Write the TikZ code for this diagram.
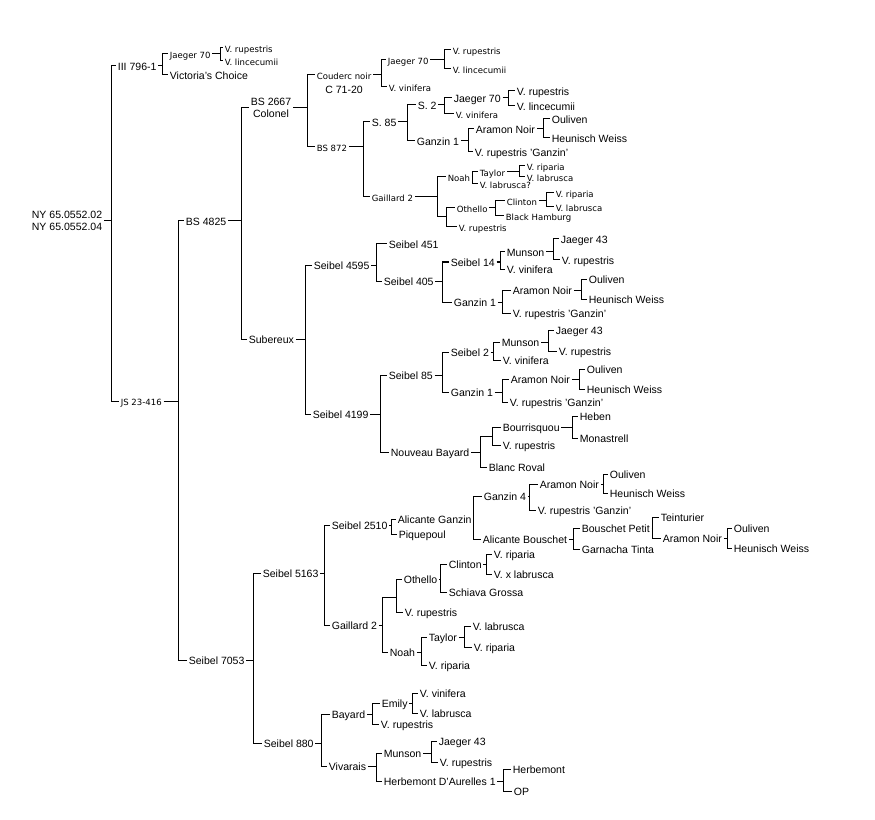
\documentclass[tikz,border=0pt]{standalone}
\usepackage{fontspec}
\setmainfont{Liberation Sans}
\newfontfamily\geneva{DejaVu Sans}

\begin{document}
\begin{tikzpicture}[x=0.75pt, y=-0.75pt, line width=0.75pt,
    txt/.style={inner sep=1pt, font=\fontsize{7.9}{9.5}\selectfont},
    cv/.style={txt, anchor=west, text height=1.6ex, text depth=.4ex},
    sm/.style={cv, font=\geneva\fontsize{6.4}{7.5}\selectfont},
    joint/.style={inner sep=0pt, minimum size=0pt}]
  \useasboundingbox (0,0) rectangle (875,820);
  % 根和两行的名字
  \node[txt, align=center, anchor=east] (root) at (104,221) {NY 65.0552.02\\NY 65.0552.04};
  \node[txt, align=center] (bs2667) at (271,108) {BS 2667\\Colonel};
  \node[sm, label={[txt, label distance=0pt]below:C 71-20}] (coud) at (315,75) {Couderc noir};
  % 没有名字的汇合点
  \foreach \n/\x/\y in {ga/446/217, jb/492/436, jc/396/597}
    \node[joint] (\n) at (\x,\y) {};
  % 普通字号
  \foreach \n/\x/\y/\t in {
      iii/116/66/III 796-1, vict/168/75/Victoria's Choice, bs4825/184/221/BS 4825,
      s85a/370/122/S. 85, s2a/416/105/S. 2, jg70c/452/98/Jaeger 70,
      rupc/515/91/V. rupestris, linc/515/106/V. lincecumii, gz1a/415/141/Ganzin 1,
      arna/474/129/Aramon Noir, oula/550/119/Ouliven, hwa/550/138/Heunisch Weiss,
      vrga/473/152/V. rupestris 'Ganzin',
      sub/247/339/Subereux, s4595/312/265/Seibel 4595, s451/387/244/Seibel 451,
      s405/382/281/Seibel 405, s14/449/262/Seibel 14, muna/505/252/Munson,
      jg43a/559/239/Jaeger 43, rupe/560/260/V. rupestris, vind/505/269/V. vinifera,
      gz1b/452/302/Ganzin 1, arnb/511/290/Aramon Noir, oulb/587/279/Ouliven,
      hwb/587/299/Heunisch Weiss, vrgb/511/313/V. rupestris 'Ganzin',
      s4199/311/414/Seibel 4199, s85b/387/375/Seibel 85, s2b/449/352/Seibel 2,
      munb/500/342/Munson, jg43b/554/330/Jaeger 43, rupf/557/351/V. rupestris,
      vine/501/360/V. vinifera, gz1c/449/392/Ganzin 1, arnc/509/379/Aramon Noir,
      oulc/585/369/Ouliven, hwc/585/389/Heunisch Weiss, vrgc/508/402/V. rupestris 'Ganzin',
      nbay/389/452/Nouveau Bayard, bour/501/427/Bourrisquou, heb/578/416/Heben,
      mon/578/438/Monastrell, rupg/501/445/V. rupestris, blanc/487/467/Blanc Roval,
      s7053/187/660/Seibel 7053, s5163/261/573/Seibel 5163, s2510/330/525/Seibel 2510,
      alg/396/519/Alicante Ganzin, piq/397/534/Piquepoul, gz4/482/496/Ganzin 4,
      arnd/538/484/Aramon Noir, ould/608/474/Ouliven, hwd/608/493/Heunisch Weiss,
      vrgd/536/510/V. rupestris 'Ganzin', alb/481/539/Alicante Bouschet,
      bpet/580/528/Bouschet Petit, tein/659/517/Teinturier, arne/661/538/Aramon Noir,
      oule/732/528/Ouliven, hwe/732/548/Heunisch Weiss, garn/580/549/Garnacha Tinta,
      gail2/330/625/Gaillard 2, oth2/402/579/Othello, clin2/447/564/Clinton,
      ripc/492/554/V. riparia, labx/492/574/V. x labrusca, schia/447/592/Schiava Grossa,
      ruph/403/612/V. rupestris, noah2/388/652/Noah, tay2/427/637/Taylor,
      labc/471/626/V. labrusca, ripd/472/647/V. riparia, ripe/427/665/V. riparia,
      s880/262/743/Seibel 880, bay/330/714/Bayard, emi/380/703/Emily,
      vinf/418/693/V. vinifera, labd/418/713/V. labrusca, rupi/379/724/V. rupestris,
      viv/327/766/Vivarais, munc/382/753/Munson, jg43c/437/741/Jaeger 43,
      rupj/438/762/V. rupestris, hda/382/781/Herbemont D'Aurelles 1,
      herb/511/769/Herbemont, op/512/791/OP}
    \node[cv] (\n) at (\x,\y) {\t};
  % 小字号
  \foreach \n/\x/\y/\t in {
      jg70a/168/54/Jaeger 70, rupa/223/48/V. rupestris, lina/223/61/V. lincecumii,
      js/119/401/JS 23-416, jg70b/386/60/Jaeger 70, rupb/451/50/V. rupestris,
      linb/451/69/V. lincecumii, vinb/387/87/V. vinifera, bs872/315/147/BS 872,
      vinc/454/114/V. vinifera, gail/370/197/Gaillard 2, noah/446/177/Noah,
      tay/478/172/Taylor, ripa/525/166/V. riparia, laba/525/177/V. labrusca,
      labq/478/184/V. labrusca?, oth/455/208/Othello, clin/505/201/Clinton,
      ripb/554/193/V. riparia, labb/554/207/V. labrusca, bham/504/216/Black Hamburg,
      rupd/457/227/V. rupestris}
    \node[sm] (\n) at (\x,\y) {\t};
  % 亲本连线: 名字/竖线的x/子代
  \foreach \p/\b/\cs in {
      root/111/{iii,js}, iii/162/{jg70a,vict}, jg70a/220/{rupa,lina},
      js/178/{bs4825,s7053}, bs4825/241/{bs2667,sub}, bs2667/307/{coud,bs872},
      coud/381/{jg70b,vinb}, jg70b/444/{rupb,linb}, bs872/363/{s85a,gail},
      s85a/407/{s2a,gz1a}, s2a/444/{jg70c,vinc}, jg70c/508/{rupc,linc},
      gz1a/468/{arna,vrga}, arna/543/{oula,hwa}, gail/437/{noah,ga},
      ga/446/{oth,rupd}, noah/472/{tay,labq}, tay/519/{ripa,laba},
      oth/495/{clin,bham}, clin/546/{ripb,labb},
      sub/305/{s4595,s4199}, s4595/376/{s451,s405}, s405/442/{s14,gz1b},
      s14/500/{muna,vind}, muna/553/{jg43a,rupe}, gz1b/502/{arnb,vrgb},
      arnb/581/{oulb,hwb}, s4199/380/{s85b,nbay}, s85b/442/{s2b,gz1c},
      s2b/493/{munb,vine}, munb/548/{jg43b,rupf}, gz1c/502/{arnc,vrgc},
      arnc/579/{oulc,hwc}, nbay/480/{jb,blanc}, jb/492/{bour,rupg},
      bour/572/{heb,mon},
      s7053/253/{s5163,s880}, s5163/324/{s2510,gail2}, s2510/391/{alg,piq},
      alg/473/{gz4,alb}, gz4/529/{arnd,vrgd}, arnd/603/{ould,hwd},
      alb/573/{bpet,garn}, bpet/652/{tein,arne}, arne/727/{oule,hwe},
      gail2/382/{jc,noah2}, jc/396/{oth2,ruph}, oth2/440/{clin2,schia},
      clin2/486/{ripc,labx}, noah2/421/{tay2,ripe}, tay2/464/{labc,ripd},
      s880/321/{bay,viv}, bay/372/{emi,rupi}, emi/412/{vinf,labd},
      viv/376/{munc,hda}, munc/431/{jg43c,rupj}, hda/503/{herb,op}} {
    \draw (\p.east) -- (\b,0 |- \p.east) coordinate (j-\p);
    \foreach \c in \cs {\draw (j-\p) |- (\c.west);}
  }
\end{tikzpicture}
\end{document}
